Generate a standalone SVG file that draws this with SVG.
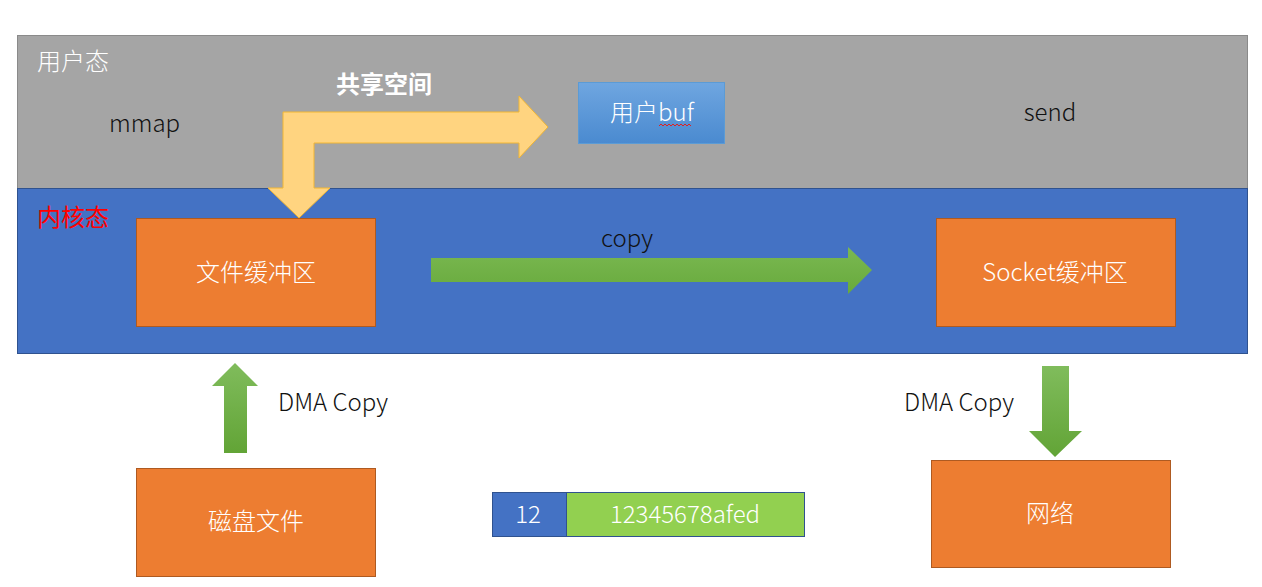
<svg xmlns="http://www.w3.org/2000/svg" width="1262" height="587" viewBox="0 0 1262 587">
<defs>
<style>
.t{font-family:"Noto Sans CJK SC","Noto Sans",sans-serif;font-weight:300;font-size:24px;}
.b{font-weight:bold;}
.w{fill:#ffffff;}
.k{fill:#111111;}
.m{text-anchor:middle;}
.box{fill:#ed7d31;stroke:#ae5a21;stroke-width:1;}
</style>
<linearGradient id="gbuf" x1="0" y1="0" x2="0" y2="1">
<stop offset="0" stop-color="#6fa6e0"/>
<stop offset="1" stop-color="#4a8ad0"/>
</linearGradient>
<linearGradient id="gv" x1="0" y1="0" x2="0" y2="1">
<stop offset="0" stop-color="#80bc5c"/>
<stop offset="1" stop-color="#62a436"/>
</linearGradient>
<linearGradient id="gh" x1="0" y1="0" x2="0" y2="1">
<stop offset="0" stop-color="#7ab852"/>
<stop offset="1" stop-color="#68aa3c"/>
</linearGradient>
</defs>
<rect width="1262" height="587" fill="#ffffff"/>
<g id="user-space">
<rect x="17.5" y="35.5" width="1230" height="153" fill="#a5a5a5" stroke="#8a8a8a"/>
<text class="t w" x="37" y="70">用户态</text>
<text class="t k" x="109" y="132">mmap</text>
<text class="t k" x="1050" y="121" text-anchor="middle">send</text>
</g>
<g id="kernel-space">
<rect x="17.5" y="188.5" width="1230" height="165" fill="#4472c4" stroke="#2f528f"/>
<text class="t" x="37" y="226" fill="#ff0000" style="font-weight:400">内核态</text>
</g>
<g id="user-buf">
<rect x="578.5" y="82.5" width="146" height="61" fill="url(#gbuf)" stroke="#5b9bd5"/>
<text class="t w m" x="652" y="121">用户buf</text>
<path d="M659 126 l2 -2 l2 2 l2 -2 l2 2 l2 -2 l2 2 l2 -2 l2 2 l2 -2 l2 2 l2 -2 l2 2 l2 -2 l2 2 l2 -2 l2 2" fill="none" stroke="#e02020" stroke-width="1"/>
</g>
<g id="file-buffer">
<rect class="box" x="136.5" y="218.5" width="239" height="108"/>
<text class="t w m" x="256" y="281">文件缓冲区</text>
</g>
<g id="socket-buffer">
<rect class="box" x="936.5" y="218.5" width="239" height="108"/>
<text class="t w m" x="1055" y="281">Socket缓冲区</text>
</g>
<g id="disk-file">
<rect class="box" x="136.5" y="468.5" width="239" height="108"/>
<text class="t w m" x="256" y="530">磁盘文件</text>
</g>
<g id="network">
<rect class="box" x="931.5" y="460.5" width="239" height="107"/>
<text class="t w m" x="1050" y="522">网络</text>
</g>
<g id="record">
<rect x="492.5" y="492.5" width="74" height="44" fill="#4472c4" stroke="#2f528f"/>
<rect x="566.5" y="492.5" width="238" height="44" fill="#92d050" stroke="#2f528f"/>
<text class="t w m" x="528" y="523">12</text>
<text class="t w m" x="685" y="523">12345678afed</text>
</g>
<g id="connectors">
<path d="M283 112 H519 V96 L548 127 L519 158 V143 H314 V188 H330 L299 218 L268 188 H283 Z" fill="#ffd480" stroke="#f2b632" stroke-width="1"/>
<text class="t b w m" x="384" y="93">共享空间</text>
<path d="M431 258 H848 V247 L872 270 L848 294 V282 H431 Z" fill="url(#gh)"/>
<text class="t k m" x="627" y="247">copy</text>
<path d="M224 453 V386 H212 L235 363 L258 386 H247 V453 Z" fill="url(#gv)"/>
<text class="t k" x="278" y="411">DMA Copy</text>
<path d="M1042 366 H1069 V431 H1082 L1055 457 L1029 431 H1042 Z" fill="url(#gv)"/>
<text class="t k" x="904" y="411">DMA Copy</text>
</g>
</svg>
